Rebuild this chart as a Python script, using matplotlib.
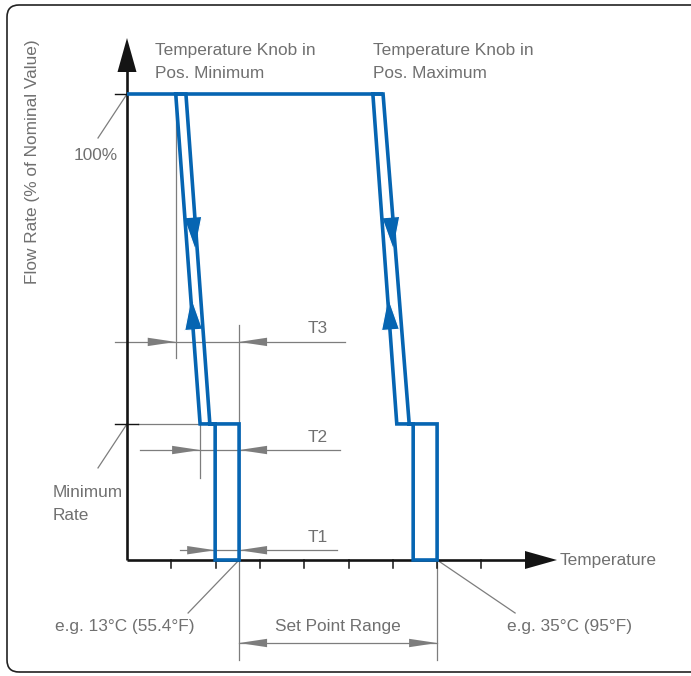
import matplotlib
matplotlib.use('Agg')
import matplotlib.pyplot as plt
from matplotlib.patches import Polygon, FancyBboxPatch
from matplotlib.transforms import IdentityTransform
import numpy as np

# ---------------- data ----------------
# temperature in tick units along the x axis, flow in % of nominal value
temp_ticks = [1, 2, 3, 4, 5, 6, 7, 8]
flow_nominal = 100.0
flow_minimum = 29.2
knob_labels = ['Temperature Knob in\nPos. Minimum', 'Temperature Knob in\nPos. Maximum']
knob_top_x = [[1.10, 1.33], [5.55, 5.78]]       # slanted band at 100 %
knob_bottom_x = [[1.65, 1.87], [6.09, 6.37]]    # slanted band at minimum rate
knob_band_x = [[1.99, 2.53], [6.46, 7.00]]      # T1 band down to the axis
dim_labels = ['T3', 'T2', 'T1']
dim_levels = [46.8, 23.6, 2.1]
dim_from = [1.10, 1.65, 1.99]
dim_to = [2.53, 2.53, 2.53]
setpoint_labels = ['e.g. 13°C (55.4°F)', 'e.g. 35°C (95°F)']
range_label = 'Set Point Range'
x_label = 'Temperature'
y_label = 'Flow Rate (% of Nominal Value)'
level_labels = ['100%', 'Minimum\nRate']

# ---------------- layout ----------------
W, H = 691, 676
X0, Y0 = 127, 560          # pixel position of the origin
SX, SY = 44.3, 4.66        # pixels per x unit / per %
BLUE = '#0665b2'
GRAY = '#7d7d7d'
TGRAY = '#707070'
BLACK = '#141414'
FONT = ['Liberation Sans', 'DejaVu Sans']
FS = 12.4

plt.rcParams['font.family'] = FONT

fig = plt.figure(figsize=(W / 100, H / 100), dpi=100)
ax = fig.add_axes([0, 0, 1, 1])
ax.set_xlim(-X0 / SX, (W - X0) / SX)
ax.set_ylim(-(H - Y0) / SY, Y0 / SY)
ax.axis('off')


def px(dxp):
    return dxp / SX


def py(dyp):
    return dyp / SY


def tri(tip, direction, length, half, **kw):
    """triangle with tip at data point, direction given in pixel space"""
    d = np.asarray(direction, float)
    d = d / np.hypot(*d)
    n = np.array([-d[1], d[0]])
    tx, ty = tip[0] * SX, tip[1] * SY
    base = np.array([tx, ty]) - d * length
    pts = [(tx, ty), tuple(base + n * half), tuple(base - n * half)]
    pts = [(p[0] / SX, p[1] / SY) for p in pts]
    ax.add_patch(Polygon(pts, closed=True, **kw))


# border
fig.patches.append(FancyBboxPatch((7, 4), 700, 667, boxstyle='round,pad=0,rounding_size=12',
                                  transform=IdentityTransform(), fill=False,
                                  edgecolor='#222222', lw=1.2))

# ---------------- gray dimension lines ----------------
glw = 0.9
# extension lines
ax.plot([dim_from[0]] * 2, [flow_nominal, py(560 - 358)], color=GRAY, lw=glw)
ax.plot([dim_to[0]] * 2, [py(560 - 325), py(560 - 660)], color=GRAY, lw=glw)
ax.plot([dim_from[1]] * 2, [flow_minimum, py(560 - 478)], color=GRAY, lw=glw)
ax.plot([knob_band_x[1][1]] * 2, [0, py(560 - 660)], color=GRAY, lw=glw)
ax.plot([px(11), knob_bottom_x[0][0]], [flow_minimum] * 2, color=GRAY, lw=glw)

dim_line_span = [(px(-12), px(218)), (px(13), px(213)), (px(53), px(210))]
for lab, lev, a, b, (s, e) in zip(dim_labels, dim_levels, dim_from, dim_to, dim_line_span):
    ax.plot([s, e], [lev, lev], color=GRAY, lw=glw)
    tri((a, lev), (1, 0), 28, 4.2, color=GRAY, lw=0)
    tri((b, lev), (-1, 0), 28, 4.2, color=GRAY, lw=0)
    ax.text(px(191), lev + py(13), lab, ha='center', va='center', color=TGRAY, fontsize=FS)

# set point range
y_rng = py(560 - 643)
ax.plot([knob_band_x[0][1], knob_band_x[1][1]], [y_rng] * 2, color=GRAY, lw=glw)
tri((knob_band_x[0][1], y_rng), (-1, 0), 28, 4.2, color=GRAY, lw=0)
tri((knob_band_x[1][1], y_rng), (1, 0), 28, 4.2, color=GRAY, lw=0)
ax.text((knob_band_x[0][1] + knob_band_x[1][1]) / 2, py(560 - 627), range_label,
        ha='center', va='center', color=TGRAY, fontsize=FS)

# leader lines
ax.plot([knob_band_x[0][1], knob_band_x[0][1] - px(51)], [0, py(560 - 613)], color=GRAY, lw=glw)
ax.plot([knob_band_x[1][1], knob_band_x[1][1] + px(78)], [0, py(560 - 613)], color=GRAY, lw=glw)
ax.plot([0, px(-29)], [flow_nominal, flow_nominal - py(44)], color=GRAY, lw=glw)
ax.plot([0, px(-29)], [flow_minimum, flow_minimum - py(44)], color=GRAY, lw=glw)

ax.text(knob_band_x[0][1] - px(45), py(560 - 627), setpoint_labels[0], ha='right', va='center',
        color=TGRAY, fontsize=FS)
ax.text(knob_band_x[1][1] + px(70), py(560 - 627), setpoint_labels[1], ha='left', va='center',
        color=TGRAY, fontsize=FS)
ax.text(px(-9), flow_nominal - py(62), level_labels[0], ha='right', va='center',
        color=TGRAY, fontsize=FS)
ax.text(px(-74), flow_minimum - py(80), level_labels[1], ha='left', va='center',
        color=TGRAY, fontsize=FS, linespacing=1.6)

# ---------------- axes ----------------
ax.plot([0, 0], [0, py(560 - 70)], color=BLACK, lw=1.9, solid_capstyle='butt')
tri((0, py(560 - 38)), (0, 1), 34, 9.5, color=BLACK, lw=0)
ax.plot([0, px(525 - 127)], [0, 0], color=BLACK, lw=1.9, solid_capstyle='butt')
tri((px(557 - 127), 0), (1, 0), 32, 9, color=BLACK, lw=0)
for t in temp_ticks:
    ax.plot([t, t], [0, py(-8)], color=BLACK, lw=1.1)
ax.plot([px(-12), 0], [flow_nominal] * 2, color=BLACK, lw=1.0)
ax.plot([px(-12), px(11)], [flow_minimum] * 2, color=BLACK, lw=1.0)

ax.text(px(-94), py(560 - 162), y_label, rotation=90, ha='center', va='center',
        color=TGRAY, fontsize=FS)
ax.text(px(433), 0, x_label, ha='left', va='center', color=TGRAY, fontsize=FS)

# ---------------- blue characteristic ----------------
blw = 2.6
ax.plot([0, knob_top_x[1][1]], [flow_nominal] * 2, color=BLUE, lw=blw,
        solid_capstyle='butt')
for i in range(2):
    t, b, r = knob_top_x[i], knob_bottom_x[i], knob_band_x[i]
    xs = [t[0], t[1], b[1], r[1], r[1], r[0], r[0], b[0], t[0]]
    ys = [flow_nominal, flow_nominal, flow_minimum, flow_minimum, 0, 0,
          flow_minimum, flow_minimum, flow_nominal]
    ax.plot(xs, ys, color=BLUE, lw=blw, solid_joinstyle='miter')
    span = flow_nominal - flow_minimum
    # down arrow on right line
    f = (flow_nominal - py(560 - 250)) / span
    tip = (t[1] + f * (b[1] - t[1]) - px(2), flow_nominal - f * span)
    d = ((b[1] - t[1]) * SX, -span * SY)
    tri(tip, d, 33, 9, facecolor=BLUE, edgecolor='white', lw=0.8)
    # up arrow on left line
    f = (flow_nominal - py(560 - 297)) / span
    tip = (t[0] + f * (b[0] - t[0]) + px(0.5), flow_nominal - f * span)
    d = (-(b[0] - t[0]) * SX, span * SY)
    tri(tip, d, 33, 9, facecolor=BLUE, edgecolor='white', lw=0.8)
    ax.text(t[0] + px(-21) if i == 0 else t[0] + px(0), py(560 - 62), knob_labels[i],
            ha='left', va='center', color=TGRAY, fontsize=FS, linespacing=1.6)

fig.savefig('out.png', dpi=100)
